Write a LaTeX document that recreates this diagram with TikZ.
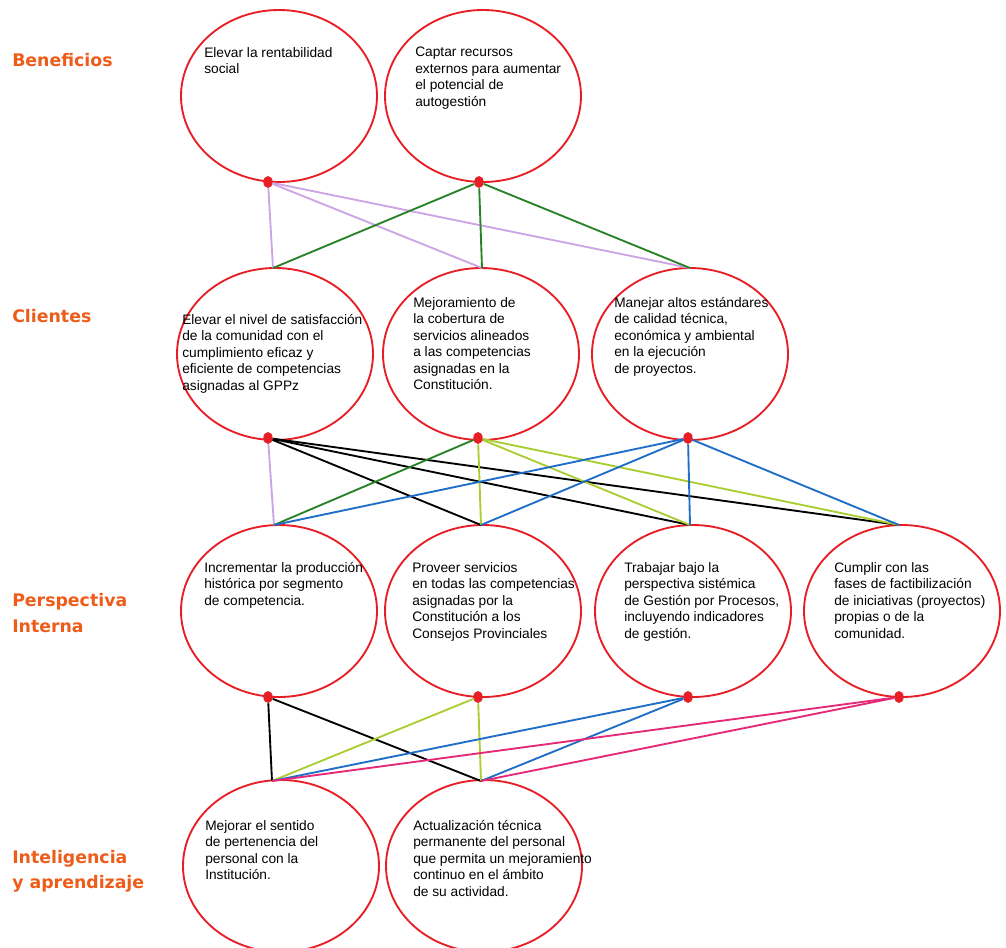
\documentclass[tikz,border=0pt]{standalone}
\usepackage{fontspec}
\setmainfont{Liberation Sans}
\newfontfamily\titulo{DejaVu Sans}
\usepackage{tikz}
\usetikzlibrary{shapes.geometric}

\definecolor{rojo}{RGB}{232,30,38}
\definecolor{naranja}{RGB}{238,92,26}
\definecolor{lila}{RGB}{205,165,230}
\definecolor{verde}{RGB}{40,130,40}
\definecolor{limon}{RGB}{170,205,50}
\definecolor{azul}{RGB}{30,110,200}
\definecolor{rosa}{RGB}{230,40,120}

\tikzset{
	objetivo/.style={ellipse, draw=rojo, line width=1.4pt, minimum width=147pt, minimum height=129pt, inner sep=0pt},
	punto/.style={ellipse, fill=rojo, minimum width=7pt, minimum height=9pt, inner sep=0pt},
	texto/.style={anchor=north west, align=left, inner sep=0pt, font=\fontsize{10.3}{12.4}\selectfont},
	perspectiva/.style={anchor=west, align=left, inner sep=0pt, text=naranja, font=\titulo\bfseries\fontsize{13}{19}\selectfont},
	enlace/.style={line width=1.4pt},
}

\begin{document}
\begin{tikzpicture}[x=0.75pt, y=-0.75pt]
	    \useasboundingbox (0,0) rectangle (1006,947);

	    % perspectivas
	    \node[perspectiva] (pben) at (12, 60) {Beneficios};
	    \node[perspectiva] (pcli) at (12, 316) {Clientes};
	    \node[perspectiva] (pint) at (12, 613) {Perspectiva\\Interna};
	    \node[perspectiva] (papr) at (12, 871) {Inteligencia\\y aprendizaje};

	    % beneficios
	    \node[objetivo] (ben1) at (279, 96) {};
	    \node[objetivo] (ben2) at (483, 96) {};
	    \node[texto] (tben1) at (204, 47) {Elevar la rentabilidad\\social};
	    \node[texto] (tben2) at (415, 47) {Captar recursos\\externos para aumentar\\el potencial de\\autogestión};

	    % clientes
	    \node[objetivo] (cli1) at (275, 354) {};
	    \node[objetivo] (cli2) at (481, 354) {};
	    \node[objetivo] (cli3) at (690, 354) {};
	    \node[texto] (tcli1) at (182, 314) {Elevar el nivel de satisfacción\\de la comunidad con el\\cumplimiento eficaz y\\eficiente de competencias\\asignadas al GPPz};
	    \node[texto] (tcli2) at (413, 297) {Mejoramiento de\\la cobertura de\\servicios alineados\\a las competencias\\asignadas en la\\Constitución.};
	    \node[texto] (tcli3) at (614, 297) {Manejar altos estándares\\de calidad técnica,\\económica y ambiental\\en la ejecución\\de proyectos.};

	    % perspectiva interna
	    \node[objetivo] (int1) at (279, 611) {};
	    \node[objetivo] (int2) at (483, 611) {};
	    \node[objetivo] (int3) at (693, 611) {};
	    \node[objetivo] (int4) at (902, 611) {};
	    \node[texto] (tint1) at (204, 562) {Incrementar la producción\\histórica por segmento\\de competencia.};
	    \node[texto] (tint2) at (412, 562) {Proveer servicios\\en todas las competencias\\asignadas por la\\Constitución a los\\Consejos Provinciales};
	    \node[texto] (tint3) at (624, 562) {Trabajar bajo la\\perspectiva sistémica\\de Gestión por Procesos,\\incluyendo indicadores\\de gestión.};
	    \node[texto] (tint4) at (834, 562) {Cumplir con las\\fases de factibilización\\de iniciativas (proyectos)\\propias o de la\\comunidad.};

	    % inteligencia y aprendizaje
	    \node[objetivo] (apr1) at (281, 866) {};
	    \node[objetivo] (apr2) at (484, 866) {};
	    \node[texto] (tapr1) at (205, 820) {Mejorar el sentido\\de pertenencia del\\personal con la\\Institución.};
	    \node[texto] (tapr2) at (413, 820) {Actualización técnica\\permanente del personal\\que permita un mejoramiento\\continuo en el ámbito\\de su actividad.};

	    % puntos de salida
	    \node[punto] (pb1) at (268, 182) {};
	    \node[punto] (pb2) at (479, 182) {};
	    \node[punto] (pc1) at (268, 438) {};
	    \node[punto] (pc2) at (478, 438) {};
	    \node[punto] (pc3) at (688, 438) {};
	    \node[punto] (pi1) at (268, 697) {};
	    \node[punto] (pi2) at (478, 697) {};
	    \node[punto] (pi3) at (688, 697) {};
	    \node[punto] (pi4) at (899, 697) {};

	    % puntos de llegada
	    \coordinate (ecli1) at (273, 268);
	    \coordinate (ecli2) at (482, 268);
	    \coordinate (ecli3) at (690, 268);
	    \coordinate (eint1) at (274, 525);
	    \coordinate (eint2) at (481, 525);
	    \coordinate (eint3) at (690, 525);
	    \coordinate (eint4) at (899, 525);
	    \coordinate (eapr1) at (272, 781);
	    \coordinate (eapr2) at (481, 781);

	    % relaciones causa-efecto
	    \foreach \a/\b/\c in {pb1/ecli1/lila,pb1/ecli2/lila,pb1/ecli3/lila,%
	                          pb2/ecli1/verde,pb2/ecli2/verde,pb2/ecli3/verde,%
	                          pc1/eint1/lila,pc1/eint2/black,pc1/eint3/black,pc1/eint4/black,%
	                          pc2/eint1/verde,pc2/eint2/limon,pc2/eint3/limon,pc2/eint4/limon,%
	                          pc3/eint1/azul,pc3/eint2/azul,pc3/eint3/azul,pc3/eint4/azul,%
	                          pi1/eapr1/black,pi1/eapr2/black,pi2/eapr1/limon,pi2/eapr2/limon,%
	                          pi3/eapr1/azul,pi3/eapr2/azul,pi4/eapr1/rosa,pi4/eapr2/rosa} {
	        \draw[enlace, draw=\c] (\a) -- (\b);
	    };
\end{tikzpicture}
\end{document}
